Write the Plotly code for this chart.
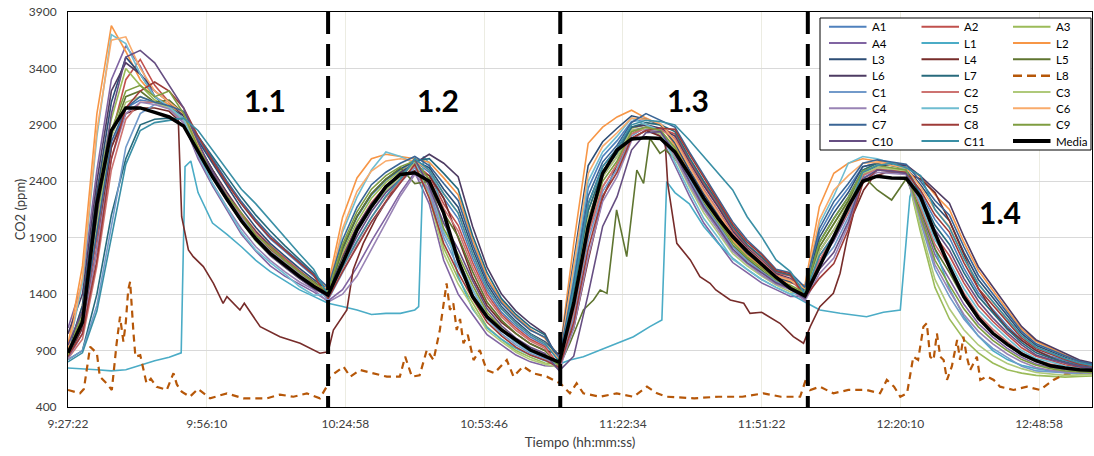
import pandas as pd
import plotly.graph_objects as go

BASE = pd.Timestamp("2020-01-01 09:27:22")
END_MIN = 212.6

# common time grid (minutes after 9:27:22) for most sensors
T = list(range(0, 214, 3))

A1 = [840,1100,1800,2700,3050,3120,3100,3060,3000,2780,2580,2390,2200,2040,1890,1780,1670,1560,
      1440,1810,2080,2280,2410,2500,2580,2480,2250,2070,1720,1430,1240,1120,1020,950,
      830,1550,2340,2620,2760,2930,2950,2910,2760,2530,2310,2120,1920,1780,1670,1560,1520,
      1450,1940,2170,2340,2530,2560,2550,2530,2300,2060,1900,1630,1410,1260,1120,990,900,850,810,775,750]
A2 = [850,1150,1900,2800,3300,3480,3250,3100,2980,2720,2500,2300,2120,1960,1830,1720,1610,1510,
      1400,1740,2000,2210,2360,2470,2560,2450,2200,2010,1680,1400,1220,1100,1000,935,
      770,1250,1930,2350,2550,2820,2880,2870,2820,2590,2380,2190,1980,1830,1720,1590,1560,
      1400,1740,1920,2150,2460,2520,2510,2500,2220,1920,1740,1500,1300,1160,1040,925,850,810,775,750,735]
A3 = [880,1300,2300,2950,3400,3250,3120,3060,2950,2680,2450,2230,2040,1870,1740,1640,1540,1460,
      1390,1770,2040,2250,2390,2490,2600,2300,1810,1540,1320,1110,1000,900,840,790,
      780,1400,2140,2490,2650,2870,2900,2860,2680,2440,2220,2030,1840,1720,1610,1520,1470,
      1390,1820,2020,2220,2500,2560,2540,2500,1950,1460,1180,1000,880,790,730,700,680,670,665,670,675]
A4 = [1100,1500,2500,3300,3600,3420,3150,3050,2920,2600,2360,2150,1930,1780,1650,1560,1490,1420,
      1340,1440,1640,1870,2080,2300,2480,2200,1700,1400,1220,1040,950,860,800,765,
      760,1350,2070,2440,2620,2850,2880,2800,2540,2270,2030,1850,1680,1590,1500,1440,1380,
      1380,1700,1870,2120,2450,2520,2500,2480,2120,1750,1530,1310,1140,1020,920,840,780,750,730,720,710]
L2 = [950,1650,3000,3780,3550,3300,3150,3080,2980,2700,2480,2280,2080,1920,1790,1690,1590,1490,
      1480,2080,2430,2600,2640,2620,2600,2570,2430,2280,1880,1550,1340,1200,1090,1010,
      850,1850,2737,2880,2970,3030,2960,2900,2720,2480,2260,2080,1880,1750,1640,1540,1500,
      1480,2175,2471,2560,2600,2580,2560,2540,2440,2280,2150,1860,1610,1430,1260,1090,980,920,860,810,780]
L3 = [900,1300,2300,3100,3500,3350,3150,3050,2980,2760,2560,2360,2160,1990,1850,1740,1630,1530,
      1430,1800,2090,2290,2420,2510,2580,2520,2330,2170,1800,1490,1290,1160,1050,980,
      860,1700,2540,2750,2870,2980,2950,2900,2740,2500,2290,2100,1900,1760,1660,1550,1510,
      1440,1900,2120,2300,2530,2560,2540,2520,2370,2190,2050,1770,1530,1370,1200,1050,945,890,840,795,770]
L6 = [1050,1400,2400,3200,3450,3350,3200,3100,2980,2720,2500,2300,2100,1950,1820,1700,1600,1500,
      1420,1720,2000,2200,2350,2480,2560,2640,2560,2440,2000,1640,1400,1250,1140,1050,
      800,1450,2200,2530,2690,2880,2900,2870,2800,2570,2360,2170,1960,1810,1700,1580,1540,
      1400,1780,1970,2190,2470,2540,2540,2545,2446,2323,2205,1909,1643,1466,1289,1112,994,935,876,817,787]
L7 = [820,900,1400,2100,2600,2900,2950,2960,2950,2800,2620,2440,2260,2100,1960,1830,1710,1590,
      1410,1700,1960,2170,2320,2450,2580,2600,2470,2330,1920,1590,1360,1220,1110,1040,
      790,1400,2140,2490,2650,2880,2920,2900,2840,2610,2400,2210,2000,1840,1730,1600,1570,
      1420,1860,2070,2260,2500,2560,2540,2520,2270,2010,1840,1590,1380,1230,1090,970,880,835,800,765,745]
C1 = [820,900,1300,2000,2700,3000,3080,3050,2960,2700,2470,2270,2080,1910,1780,1680,1580,1490,
      1350,1590,1830,2040,2220,2390,2520,2300,1900,1640,1400,1180,1050,950,875,830,
      740,1200,1870,2310,2510,2800,2880,2850,2660,2420,2190,2010,1820,1700,1600,1510,1460,
      1350,1660,1820,2080,2430,2500,2490,2470,2040,1620,1380,1180,1030,920,840,760,720,710,700,695,690]
C2 = [830,1000,1650,2500,2950,3100,3100,3050,2950,2700,2480,2280,2100,1940,1810,1700,1600,1500,
      1380,1630,1860,2080,2260,2400,2540,2420,2160,1960,1640,1370,1200,1080,985,920,
      760,1250,1930,2350,2550,2820,2870,2860,2780,2550,2330,2140,1940,1800,1690,1570,1530,
      1390,1700,1920,2120,2450,2510,2500,2490,2170,1840,1640,1410,1220,1090,980,880,815,780,755,735,725]
C3 = [850,1150,2000,2800,3100,3150,3100,3050,2950,2680,2440,2230,2040,1870,1750,1650,1560,1480,
      1370,1700,1960,2170,2320,2440,2560,2260,1760,1490,1280,1080,980,885,820,780,
      750,1350,2070,2440,2620,2850,2870,2820,2610,2350,2120,1940,1760,1650,1560,1480,1420,
      1380,1780,1970,2190,2470,2520,2510,2490,1990,1530,1270,1085,950,855,785,740,705,690,680,685,690]
C4 = [830,1050,1800,2600,3000,3100,3080,3040,2920,2620,2380,2170,1980,1820,1700,1600,1510,1440,
      1330,1400,1560,1800,2030,2270,2460,2330,1940,1700,1440,1210,1080,970,890,845,
      730,1100,1730,2220,2440,2760,2860,2840,2620,2370,2150,1960,1780,1670,1570,1490,1440,
      1340,1580,1720,2010,2400,2480,2470,2460,2070,1660,1430,1220,1070,960,870,800,750,725,710,705,700]
C5 = [880,1500,2800,3700,3620,3350,3150,3060,2950,2640,2380,2160,1950,1790,1680,1580,1470,1390,
      1400,1950,2260,2500,2660,2620,2560,2380,1950,1700,1440,1210,1080,970,890,845,
      780,1600,2400,2660,2800,2960,2900,2850,2570,2310,2070,1900,1710,1620,1530,1460,1400,
      1420,2020,2270,2560,2620,2600,2560,2500,2200,1880,1690,1450,1260,1130,1010,900,830,800,760,740,730]
C6 = [900,1550,2850,3650,3680,3400,3200,3100,3000,2720,2470,2260,2060,1900,1770,1670,1570,1480,
      1450,1980,2310,2490,2580,2600,2580,2500,2290,2120,1760,1460,1270,1140,1040,965,
      820,1650,2470,2710,2830,2960,2950,2910,2760,2530,2310,2120,1920,1780,1670,1560,1520,
      1450,2060,2320,2450,2560,2570,2540,2520,2350,2150,2000,1720,1490,1330,1180,1030,930,880,830,790,760]
C7 = [850,1150,1950,2750,3050,3150,3100,3070,3020,2800,2600,2400,2220,2060,1920,1800,1690,1580,
      1460,1880,2170,2370,2480,2560,2620,2540,2380,2230,1840,1520,1320,1190,1080,1020,
      840,1500,2270,2570,2720,2920,3000,2940,2880,2660,2450,2250,2040,1880,1760,1620,1590,
      1460,1980,2220,2380,2560,2590,2570,2550,2400,2230,2100,1820,1570,1400,1230,1070,960,905,855,805,780]
C8 = [850,1050,1700,2600,3050,3200,3280,3200,3050,2800,2580,2380,2200,2040,1900,1790,1680,1570,
      1360,1600,1820,2040,2220,2390,2550,2250,1850,1590,1360,1150,1030,930,860,815,
      750,1150,1800,2270,2480,2780,2850,2870,2860,2640,2430,2230,2020,1860,1750,1610,1580,
      1370,1540,1670,1970,2380,2500,2490,2480,2320,2100,1950,1680,1450,1300,1150,1010,915,865,820,780,760]
C9 = [860,1250,2100,2850,3200,3250,3150,3200,3000,2700,2470,2270,2120,1920,1820,1700,1600,1500,
      1420,1840,2130,2330,2450,2530,2580,2420,1980,1750,1480,1240,1100,990,910,860,
      770,1300,2000,2400,2580,2840,2880,2850,2700,2460,2240,2050,1860,1730,1630,1530,1480,
      1410,1860,2070,2260,2490,2540,2520,2500,2090,1700,1480,1270,1110,990,900,820,770,740,720,715,705]
C10 = [950,1250,2100,3000,3500,3560,3450,3250,3050,2750,2480,2260,2050,1880,1740,1640,1540,1450,
       1380,1660,1910,2130,2300,2420,2600,2350,2030,1800,1520,1270,1120,1010,930,875,
       720,850,1400,2000,2264,2677,2830,2840,2650,2400,2170,1990,1800,1680,1590,1500,1450,
       1360,1620,1770,2040,2420,2500,2490,2470,2240,1970,1790,1540,1340,1190,1060,950,860,820,790,760,740]
C11 = [800,880,1250,1900,2550,2850,2920,2940,2960,2850,2680,2510,2330,2200,2050,1900,1760,1620,
       1390,1640,1870,2080,2270,2420,2600,2500,2290,2120,1760,1460,1270,1140,1040,965,
       800,1450,2200,2530,2690,2900,2940,2930,2900,2766,2618,2470,2323,2086,1909,1703,1600,
       1400,1740,1920,2150,2480,2540,2560,2520,2450,2150,1990,1720,1490,1330,1180,1030,930,880,830,790,765]
MEDIA = [880,1150,2200,2850,3050,3050,3010,2970,2890,2660,2440,2240,2050,1890,1760,1660,1560,1470,
         1392,1673,1968,2175,2352,2460,2476,2400,2120,1700,1378,1200,1083,994,905,850,
         795,1319,1998,2470,2677,2775,2785,2780,2660,2460,2250,2070,1910,1780,1660,1550,1450,
         1385,1643,1909,2175,2400,2445,2430,2428,2264,1939,1643,1377,1190,1053,955,870,810,765,745,730,725]

# sensors with their own sampling of notable events
L1_t = [0,3,6,9,12,15,18,21,23.5,24.3,25.5,27,30,33,36,39,42,45,48,51,54,57,60,63,66,69,72,72.8,73.8,75,
        78,81,84,87,90,93,96,99,102,104.2,107,110.5,113.9,117.4,120.8,123.3,124.3,126,129,132,
        135,138,141,144,147,150,153,156.1,160.3,165.8,169.3,172.8,174.8,175.5,177,180,183,186,189,192,
        195,198,201,204,207,210,213]
L1 = [745,740,730,720,730,770,810,840,880,2530,2580,2300,2030,1930,1820,1700,1600,1520,1440,1380,
      1320,1290,1260,1220,1230,1230,1260,1290,2620,2560,2100,1560,1270,1100,1000,920,860,810,780,816,
      846,905,965,1023,1112,1171,2397,2300,2200,2000,1850,1720,1620,1530,1460,1400,1330,1260,1230,1200,
      1240,1260,2264,2350,2200,1800,1450,1200,1030,900,820,770,740,720,710,700,700]

L4_t = [0,3,6,9,12,15,18,21,22.9,23.6,25,26,28.1,30.2,32.2,33,35.7,36.6,39.9,44,
        48.2,52.3,54,55.1,57.9,59.2,61.3,64.1,67.5,70.3,72.4,75,78,81,84,87,90,93,96,99,
        102,105,108,111,114,117,120,123,124,124.5,125.7,126.4,129.2,131.2,133.3,134.5,137.5,140.3,141.6,144,
        147.8,150.6,152.7,154.1,156.1,158.9,160.3,161.7,163.1,165.2,167.2,170,174,177,180,183,186,189,192,195,
        198,201,204,207,210,213]
L4 = [850,1100,1800,2700,3000,3050,3050,3020,2943,2086,1791,1732,1644,1496,1319,1378,1260,1319,1112,1023,
      965,876,890,1082,1260,1614,1850,2086,2323,2471,2500,2450,2250,1900,1550,1300,1150,1050,960,900,
      870,1100,1700,2250,2550,2780,2850,2800,2737,2382,2027,1850,1703,1555,1496,1437,1348,1319,1230,1240,
      1142,1023,965,1112,1289,1407,1585,1880,2116,2323,2440,2480,2470,2420,2300,2050,1750,1450,1250,1100,
      990,900,840,790,760,740]

L5_t = (list(range(0, 100, 3)) +
        [102,104.2,107,109.1,110.5,111.9,113.9,116,118.1,119.5,120.8,122.9,124,126,129,132,135,138,141,144,147,150] +
        list(range(153, 214, 3)))
L5 = [870,1200,2000,2800,3150,3200,3100,3120,3000,2720,2500,2290,2100,1950,1800,1700,1600,1510,
      1410,1810,2090,2290,2420,2520,2380,2400,2120,1910,1600,1330,1170,1050,960,900,
      760,965,1260,1348,1437,1407,2146,1732,2500,2382,2781,2648,2680,2600,2420,2200,2020,1830,1710,1610,1510,1460,
      1400,1820,2020,2230,2450,2323,2234,2420,2150,1800,1590,1360,1180,1060,950,860,800,770,745,730,720]

L8_t = [0,2.5,3.3,4.6,6,6.6,8,9.1,10.1,10.8,11.5,12,12.5,12.9,13.6,14,15,16.3,17.2,18.4,20.5,21.9,22.6,23.6,25.3,
        27,29.5,33,36.4,41.3,44,46.8,49.6,52.3,53.7,54.4,
        57.2,58.6,60.6,63.4,66.2,68.9,70,71.4,73,74.5,75.9,77.2,78.6,79.3,80,80.7,81.4,82.1,83,84.2,85.5,86.9,
        88.5,91.1,92.5,94.5,96.6,99.4,100.8,102.2,
        104.2,105.6,107,110.5,113.9,117.4,120.2,122.3,124.3,130,135,140,144.4,148,152,153.4,
        154.1,156.1,158.9,162,165.8,168.6,170,171.5,172.8,174.2,175.5,176.5,177.6,178.3,179,179.7,180.4,181.1,
        181.8,182.5,183.5,184.6,185.2,185.9,186.6,187.3,188.7,189.4,190.8,192.2,193.5,196.3,199.1,201.8,204.6,
        207,210,213]
L8 = [551,521,560,934,876,669,610,551,965,1200,980,1150,1437,1510,1053,846,860,610,650,580,551,699,600,536,491,
      560,477,521,477,477,510,491,521,477,580,669,
      757,669,728,699,669,669,846,669,680,905,816,1082,1496,1260,1319,1082,1180,965,1040,816,905,728,
      700,816,669,760,699,669,640,610,
      521,610,521,491,521,491,580,521,491,477,491,491,521,491,491,669,
      551,580,521,551,551,521,640,580,491,521,846,817,1112,1142,846,816,1053,846,
      816,640,760,994,817,1023,846,728,846,640,669,640,580,551,580,551,640,
      690,700,700]

NAMES = ["A1","A2","A3","A4","L1","L2","L3","L4","L5","L6","L7","L8",
         "C1","C2","C3","C4","C5","C6","C7","C8","C9","C10","C11","Media"]
COLORS = ["#4F81BD","#C0504D","#9BBB59","#8064A2","#4BACC6","#F79646","#2C4D75","#772C2A","#5F7530",
          "#4D3B62","#276A7C","#B65708","#729ACA","#CD7371","#AFC97A","#9983B5","#6FBDD1","#F9AB6B",
          "#3A6595","#9E3B38","#7E9D40","#664E82","#3A8FA5","#000000"]
DATA = {"A1": (T, A1), "A2": (T, A2), "A3": (T, A3), "A4": (T, A4), "L1": (L1_t, L1), "L2": (T, L2),
        "L3": (T, L3), "L4": (L4_t, L4), "L5": (L5_t, L5), "L6": (T, L6), "L7": (T, L7), "L8": (L8_t, L8),
        "C1": (T, C1), "C2": (T, C2), "C3": (T, C3), "C4": (T, C4), "C5": (T, C5), "C6": (T, C6),
        "C7": (T, C7), "C8": (T, C8), "C9": (T, C9), "C10": (T, C10), "C11": (T, C11), "Media": (T, MEDIA)}

DIVIDERS = [54.0, 102.2, 153.6]
LABELS = [("1.1", 41.0, 3120), ("1.2", 76.8, 3120), ("1.3", 128.7, 3120), ("1.4", 193.5, 2128)]


def tm(mins):
    return [BASE + pd.Timedelta(minutes=m) for m in mins]


FONT = "Lato, 'Open Sans', sans-serif"
W, H = 1094, 456
ML, MR, MT, MB = 68, 2, 12, 49
PW, PH = W - ML - MR, H - MT - MB


def px(xp):
    return (xp - ML) / PW


def py(yp):
    return (H - MB - yp) / PH


def style(name, col, legend=False):
    if name == "L8":
        return dict(color=col, width=2.2 if not legend else 2.4, dash="7px,5px" if not legend else "9px,5px")
    if name == "Media":
        return dict(color=col, width=3.5 if not legend else 4)
    return dict(color=col, width=1.6 if not legend else 2)


fig = go.Figure()
for name, col in zip(NAMES, COLORS):
    t, v = DATA[name]
    fig.add_trace(go.Scatter(x=tm(t), y=v, mode="lines", name=name, line=style(name, col),
                             showlegend=False))

for d in DIVIDERS:
    fig.add_shape(type="line", xref="x", yref="paper", x0=tm([d])[0], x1=tm([d])[0], y0=1, y1=0,
                  line=dict(color="black", width=4, dash="22px,10px"))

for txt, tx, ty in LABELS:
    fig.add_annotation(x=tm([tx])[0], y=ty, text="<b>%s</b>" % txt, showarrow=False,
                       font=dict(family=FONT, size=30, color="black"))

# legend box: 3 columns x 8 rows, row-major order like the original
LEG_BOX = (820, 18, 1091, 150)
COL_X = [829, 921.5, 1013]
ROW_Y0, ROW_DY, SAMPLE_LEN = 26.7, 16.33, 37.5
fig.add_shape(type="rect", xref="paper", yref="paper", layer="above",
              x0=px(LEG_BOX[0]), x1=px(LEG_BOX[2]), y0=py(LEG_BOX[1]), y1=py(LEG_BOX[3]),
              line=dict(color="black", width=1), fillcolor="white")
for i, (name, col) in enumerate(zip(NAMES, COLORS)):
    r, c = divmod(i, 3)
    yy = py(ROW_Y0 + r * ROW_DY)
    fig.add_shape(type="line", xref="paper", yref="paper", layer="above",
                  x0=px(COL_X[c]), x1=px(COL_X[c] + SAMPLE_LEN), y0=yy, y1=yy,
                  line=style(name, col, legend=True))
    fig.add_annotation(xref="paper", yref="paper", x=px(COL_X[c] + SAMPLE_LEN + 3), y=yy,
                       xanchor="left", yanchor="middle", text=name, showarrow=False,
                       font=dict(family=FONT, size=11.5, color="black"))

fig.update_layout(
    width=W, height=H,
    margin=dict(l=ML, r=MR, t=MT, b=MB),
    paper_bgcolor="white", plot_bgcolor="white",
    font=dict(family=FONT, size=12, color="#404040"),
    showlegend=False,
)
fig.update_xaxes(type="date", range=[BASE, BASE + pd.Timedelta(minutes=END_MIN)],
                 tick0=BASE, dtick=1728000, tickformat="%-H:%M:%S",
                 showgrid=True, gridcolor="#ECECE2", gridwidth=1,
                 showline=True, linecolor="black", linewidth=1, mirror=True,
                 ticks="", ticklabelstandoff=6, zeroline=False,
                 title=dict(text="Tiempo (hh:mm:ss)", font=dict(size=13.5, color="#404040"), standoff=7))
fig.update_yaxes(range=[400, 3900], tick0=400, dtick=500,
                 showgrid=True, gridcolor="#D9D9D9", gridwidth=1,
                 showline=True, linecolor="black", linewidth=1, mirror=True,
                 ticks="", ticklabelstandoff=8, zeroline=False,
                 title=dict(text="CO2 (ppm)", font=dict(size=13, color="#404040"), standoff=0))

fig.write_html("out.html")
